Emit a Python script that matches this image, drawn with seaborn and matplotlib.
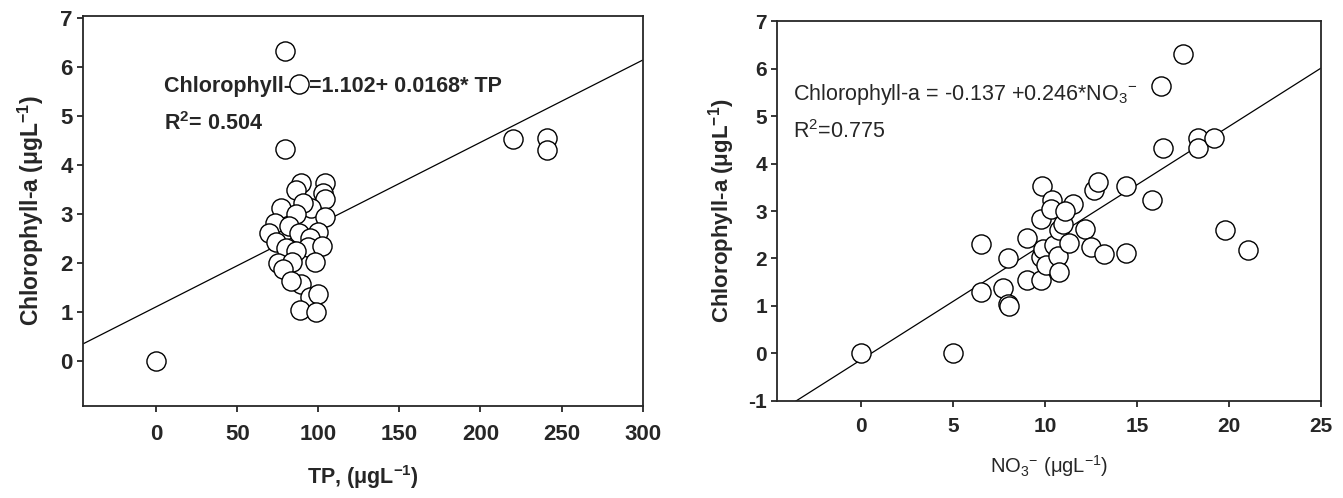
import matplotlib
matplotlib.use("Agg")
import matplotlib.pyplot as plt
import numpy as np
import pandas as pd
import seaborn as sns

# left panel: TP vs chlorophyll-a
tp = [0, 79.5, 88, 79.5, 220, 241, 241,
      89.5, 104, 86, 103, 104, 77, 95.7, 90.4, 86, 104, 73, 82, 99.8, 88,
      69.6, 95, 74, 80, 93.6, 102, 86, 75, 83.5, 98, 78, 89.5, 83, 95,
      100, 88.5, 98.8]
chl_tp = [0, 6.32, 5.65, 4.32, 4.52, 4.56, 4.31,
          3.64, 3.64, 3.48, 3.42, 3.3, 3.13, 3.12, 3.22, 3.0, 2.93, 2.82, 2.75, 2.64, 2.6,
          2.6, 2.5, 2.42, 2.3, 2.32, 2.34, 2.25, 2.0, 2.02, 2.02, 1.88, 1.56, 1.62, 1.3,
          1.37, 1.03, 1.0]

# right panel: NO3 vs chlorophyll-a
no3 = [0, 5.0, 6.5, 6.5, 7.7, 8.0, 8.05, 8.0, 9.0, 9.0, 9.86, 9.77, 9.77, 9.77, 9.9,
       10.05, 10.4, 10.3, 10.5, 10.7, 10.76, 10.76, 11.0, 11.3, 11.5, 11.1, 12.2, 12.5,
       12.65, 12.9, 13.2, 14.4, 14.4, 15.8, 16.3, 16.4, 17.5, 18.3, 18.3, 19.2, 19.8, 21.05]
chl_no3 = [0, 0, 2.3, 1.3, 1.38, 1.03, 1.0, 2.01, 2.43, 1.54, 3.53, 2.84, 1.54, 2.03, 2.2,
           1.86, 3.24, 3.05, 2.28, 2.05, 1.72, 2.6, 2.73, 2.33, 3.14, 3.0, 2.63, 2.24,
           3.44, 3.62, 2.1, 3.53, 2.12, 3.24, 5.64, 4.33, 6.31, 4.54, 4.33, 4.54, 2.6, 2.17]

# regression coefficients (intercept, slope) as printed on the chart
fit_tp = (1.102, 0.0168)
fit_no3 = (-0.137, 0.246)

sns.set_style("ticks")
plt.rcParams["font.family"] = ["Liberation Sans", "DejaVu Sans"]
plt.rcParams["mathtext.fontset"] = "custom"
plt.rcParams["mathtext.rm"] = "Liberation Sans"
plt.rcParams["mathtext.bf"] = "Liberation Sans:bold"
plt.rcParams["axes.linewidth"] = 1.3
plt.rcParams["xtick.major.width"] = 1.3
plt.rcParams["ytick.major.width"] = 1.3
plt.rcParams["xtick.major.size"] = 4
plt.rcParams["ytick.major.size"] = 4

fig = plt.figure(figsize=(13.43, 4.98), dpi=100)
ax1 = fig.add_axes([0.0620, 0.1853, 0.4165, 0.7832])
ax2 = fig.add_axes([0.5788, 0.1954, 0.4048, 0.7618])

marker_kw = dict(s=190, facecolor="white", edgecolor="black", linewidth=1.0,
                 legend=False, zorder=3)

# ---- left panel ----
df1 = pd.DataFrame({"TP": tp, "Chl": chl_tp})
xlim1 = (-45, 300)
line1 = pd.DataFrame({"x": np.array(xlim1, dtype=float)})
line1["y"] = fit_tp[0] + fit_tp[1] * line1["x"]
sns.lineplot(data=line1, x="x", y="y", color="black", linewidth=0.9, ax=ax1, zorder=1)
ax1.text(5, 5.6, "Chlorophyll-a =1.102+ 0.0168* TP", fontsize=15.5,
         fontweight="bold", va="center", zorder=2)
ax1.text(5, 4.85, r"R$^{\mathbf{2}}$= 0.504", fontsize=15.5, fontweight="bold",
         va="center", zorder=2)
sns.scatterplot(data=df1, x="TP", y="Chl", ax=ax1, **marker_kw)
ax1.set_xlim(*xlim1)
ax1.set_ylim(-0.92, 7.05)
ax1.set_xticks([0, 50, 100, 150, 200, 250, 300])
ax1.set_yticks(range(0, 8))
ax1.tick_params(labelsize=16)
for lab in ax1.get_xticklabels() + ax1.get_yticklabels():
    lab.set_fontweight("bold")
ax1.tick_params(axis="x", pad=9)
ax1.set_xlabel(r"TP, ($\mathbf{\mu}$gL$^{\mathbf{-1}}$)", fontsize=15.5,
               fontweight="bold", labelpad=13)
ax1.set_ylabel(r"Chlorophyll-a ($\mathbf{\mu}$gL$^{\mathbf{-1}}$)", fontsize=16.5,
               fontweight="bold", labelpad=10)

# ---- right panel ----
df2 = pd.DataFrame({"NO3": no3, "Chl": chl_no3})
xlim2 = (-4.55, 25)
line2 = pd.DataFrame({"x": np.array(xlim2, dtype=float)})
line2["y"] = fit_no3[0] + fit_no3[1] * line2["x"]
sns.lineplot(data=line2, x="x", y="y", color="black", linewidth=0.9, ax=ax2, zorder=1)
ax2.text(-3.7, 5.45, r"Chlorophyll-a = -0.137 +0.246*NO$_\mathrm{3}$$^\mathrm{-}$",
         fontsize=15.5, va="center", zorder=2)
ax2.text(-3.7, 4.67, r"R$^\mathrm{2}$=0.775", fontsize=15.5,
         va="center", zorder=2)
sns.scatterplot(data=df2, x="NO3", y="Chl", ax=ax2, **marker_kw)
ax2.set_xlim(*xlim2)
ax2.set_ylim(-1, 7)
ax2.set_xticks([0, 5, 10, 15, 20, 25])
ax2.set_yticks(range(-1, 8))
ax2.set_yticklabels([str(v) for v in range(-1, 8)])
ax2.tick_params(labelsize=15)
for lab in ax2.get_xticklabels() + ax2.get_yticklabels():
    lab.set_fontweight("bold")
ax2.tick_params(axis="x", pad=8)
ax2.set_xlabel(r"NO$_\mathrm{3}$$^\mathrm{-}$ ($\mathrm{\mu}$gL$^\mathrm{-1}$)",
               fontsize=14.5, labelpad=12)
ax2.set_ylabel(r"Chlorophyll-a ($\mathbf{\mu}$gL$^{\mathbf{-1}}$)", fontsize=16,
               fontweight="bold", labelpad=8)

fig.savefig("out.png", dpi=100)
